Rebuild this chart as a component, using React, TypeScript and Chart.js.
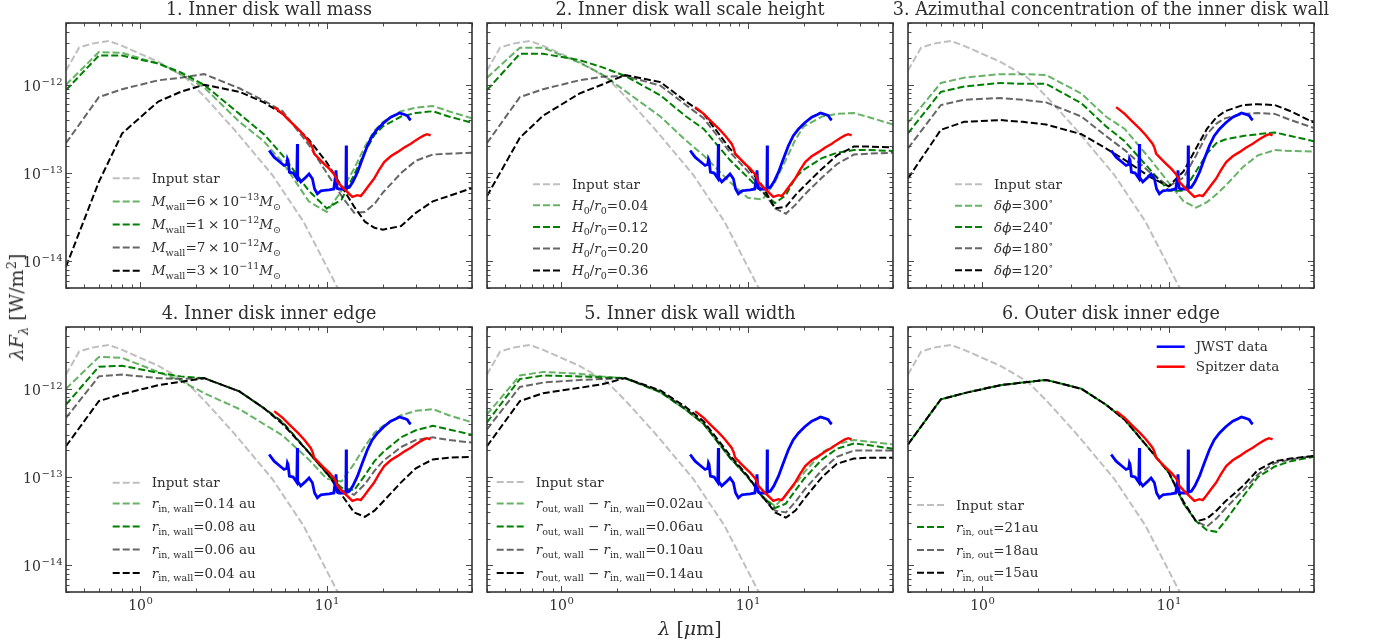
import React, { useEffect, useRef } from 'react';
import { Chart, registerables } from 'chart.js';
Chart.register(...registerables);

const FONT = '"DejaVu Serif", serif';
const TEXT = '#2e2e2e';

// ---------- axes ----------
const X_MIN = 0.4;
const X_MAX = 60;
const Y_MIN = 5e-15;
const Y_MAX = 5e-12;
const X_MAJOR = [1, 10];
const X_EXPONENTS = ['0', '1'];
const Y_MAJOR = [1e-14, 1e-13, 1e-12];
const Y_EXPONENTS = ['−14', '−13', '−12'];

// ---------- data (wavelength in μm, log10 of λFλ in W/m²) ----------
const MODEL_WL = [0.4, 0.6, 0.8, 1.25, 1.65, 2.2, 3.4, 4.6, 5.8, 8, 10, 12, 14, 16, 18, 20, 25, 30, 37, 45, 60];

const STAR_WL = [0.4, 0.47, 0.55, 0.68, 0.8, 1.0, 1.25, 1.75, 2.2, 3.2, 5.1, 7.5, 11.3, 20];
const STAR_LOGF = [-11.84, -11.58, -11.535, -11.505, -11.56, -11.65, -11.74, -11.92, -12.13, -12.51, -13.02, -13.55, -14.28, -15.0];

const JWST_WL = [4.91, 5.05, 5.22, 5.5, 5.9, 6.1, 6.15, 6.2, 6.3, 6.6, 6.9, 6.95, 6.98, 7.25, 7.6, 8.03, 8.37, 8.6, 8.9, 9.3, 9.67, 10.3, 10.9, 11.1, 11.2, 11.35, 11.6, 12.4, 12.65, 12.7, 12.75, 13.2, 13.8, 14.6, 15.5, 16.5, 17.5, 18.7, 20.2, 22.0, 23.5, 24.5, 25.4, 26.3, 27.0, 27.8, 28.2];
const JWST_LOGF = [-12.744, -12.78, -12.82, -12.86, -12.914, -12.9, -12.84, -12.857, -12.99, -13.0, -13.06, -12.67, -13.05, -13.1, -13.06, -13.01, -13.065, -13.18, -13.234, -13.2, -13.197, -13.19, -13.18, -13.05, -12.97, -13.17, -13.18, -13.18, -13.18, -12.687, -13.17, -13.16, -13.1, -12.99, -12.84, -12.69, -12.58, -12.5, -12.43, -12.367, -12.34, -12.32, -12.33, -12.34, -12.35, -12.39, -12.4];

const SPITZER_WL = [5.22, 5.8, 6.4, 7.0, 7.55, 8.2, 8.4, 8.55, 9.1, 9.67, 10.3, 10.9, 11.2, 11.4, 12.0, 12.9, 13.7, 14.6, 15.2, 15.8, 16.8, 17.9, 19.0, 20.3, 22.0, 23.9, 26.0, 28.2, 29.9, 31.5, 33.2, 34.5, 36.0];
const SPITZER_LOGF = [-12.254, -12.33, -12.42, -12.5, -12.574, -12.67, -12.72, -12.78, -12.84, -12.895, -12.95, -13.01, -13.05, -13.1, -13.15, -13.216, -13.27, -13.25, -13.26, -13.216, -13.14, -13.065, -12.97, -12.876, -12.81, -12.763, -12.71, -12.668, -12.63, -12.6, -12.574, -12.56, -12.574];

// Panel 1: inner disk wall mass
const P1_MWALL_6E13 = [-12.0, -11.63, -11.64, -11.76, -11.88, -12.03, -12.42, -12.64, -12.88, -13.32, -13.44, -13.2, -12.95, -12.7, -12.52, -12.42, -12.3, -12.26, -12.24, -12.3, -12.38];
const P1_MWALL_1E12 = [-12.06, -11.67, -11.67, -11.76, -11.86, -12.0, -12.33, -12.56, -12.8, -13.2, -13.4, -13.3, -13.02, -12.76, -12.57, -12.47, -12.36, -12.32, -12.3, -12.36, -12.43];
const P1_MWALL_7E12 = [-12.66, -12.14, -12.05, -11.95, -11.92, -11.88, -12.04, -12.18, -12.3, -12.68, -13.0, -13.26, -13.45, -13.44, -13.35, -13.22, -13.0, -12.86, -12.79, -12.78, -12.77];
const P1_MWALL_3E11 = [-14.06, -13.1, -12.55, -12.19, -12.08, -12.0, -12.08, -12.2, -12.33, -12.62, -12.88, -13.15, -13.38, -13.55, -13.62, -13.64, -13.6, -13.45, -13.32, -13.26, -13.17];

// Panel 2: inner disk wall scale height
const P2_H004 = [-11.92, -11.58, -11.58, -11.75, -11.88, -12.07, -12.36, -12.62, -12.8, -13.1, -13.28, -13.3, -13.1, -12.85, -12.62, -12.47, -12.36, -12.33, -12.32, -12.37, -12.45];
const P2_H012 = [-12.06, -11.65, -11.65, -11.72, -11.8, -11.9, -12.12, -12.35, -12.5, -12.85, -13.05, -13.22, -13.34, -13.25, -13.05, -12.96, -12.83, -12.77, -12.74, -12.74, -12.75];
const P2_H020 = [-12.66, -12.14, -12.05, -11.95, -11.91, -11.9, -12.01, -12.22, -12.38, -12.76, -12.98, -13.2, -13.4, -13.46, -13.36, -13.25, -13.05, -12.9, -12.79, -12.78, -12.77];
const P2_H036 = [-13.26, -12.6, -12.35, -12.1, -12.0, -11.89, -11.97, -12.18, -12.33, -12.72, -12.93, -13.15, -13.4, -13.38, -13.25, -13.15, -12.95, -12.8, -12.7, -12.7, -12.71];

// Panel 3: azimuthal concentration
const P3_DPHI300 = [-12.43, -11.98, -11.92, -11.88, -11.88, -11.89, -12.1, -12.36, -12.5, -12.85, -13.11, -13.32, -13.39, -13.33, -13.24, -13.15, -12.93, -12.8, -12.74, -12.75, -12.755];
const P3_DPHI240 = [-12.55, -12.08, -12.02, -11.98, -11.99, -11.99, -12.21, -12.47, -12.64, -12.97, -13.2, -13.2, -12.98, -12.78, -12.66, -12.62, -12.58, -12.56, -12.54, -12.58, -12.64];
const P3_DPHI180 = [-12.72, -12.23, -12.17, -12.15, -12.17, -12.2, -12.36, -12.58, -12.74, -13.0, -13.15, -13.05, -12.8, -12.56, -12.44, -12.38, -12.33, -12.32, -12.33, -12.4, -12.49];
const P3_DPHI120 = [-13.06, -12.51, -12.42, -12.4, -12.42, -12.45, -12.56, -12.72, -12.85, -13.05, -13.15, -12.98, -12.72, -12.5, -12.37, -12.3, -12.23, -12.22, -12.23, -12.3, -12.43];

// Panel 4: inner disk inner edge
const P4_RIN014 = [-12.0, -11.64, -11.65, -11.81, -11.91, -12.05, -12.23, -12.4, -12.53, -12.8, -13.02, -13.05, -12.85, -12.65, -12.5, -12.42, -12.3, -12.25, -12.23, -12.3, -12.38];
const P4_RIN008 = [-12.18, -11.75, -11.74, -11.82, -11.86, -11.88, -12.03, -12.22, -12.38, -12.72, -12.96, -13.12, -13.15, -12.98, -12.82, -12.72, -12.55, -12.47, -12.42, -12.46, -12.52];
const P4_RIN006 = [-12.33, -11.86, -11.84, -11.88, -11.89, -11.88, -12.03, -12.22, -12.38, -12.72, -12.96, -13.15, -13.2, -13.08, -12.93, -12.82, -12.66, -12.58, -12.55, -12.58, -12.61];
const P4_RIN004 = [-12.65, -12.14, -12.06, -11.96, -11.92, -11.88, -12.03, -12.22, -12.4, -12.72, -12.95, -13.2, -13.4, -13.45, -13.38, -13.28, -13.06, -12.9, -12.8, -12.78, -12.77];

// Panel 5: inner disk wall width
const P5_W002 = [-12.29, -11.85, -11.81, -11.83, -11.86, -11.88, -12.04, -12.23, -12.4, -12.78, -13.0, -13.22, -13.33, -13.2, -13.08, -12.95, -12.72, -12.63, -12.58, -12.6, -12.63];
const P5_W006 = [-12.38, -11.89, -11.85, -11.86, -11.87, -11.88, -12.04, -12.23, -12.4, -12.78, -13.0, -13.22, -13.35, -13.3, -13.15, -13.02, -12.8, -12.68, -12.62, -12.64, -12.68];
const P5_W010 = [-12.46, -11.98, -11.93, -11.9, -11.89, -11.88, -12.03, -12.22, -12.39, -12.77, -13.0, -13.23, -13.38, -13.4, -13.28, -13.15, -12.92, -12.77, -12.7, -12.7, -12.7];
const P5_W014 = [-12.65, -12.14, -12.05, -11.99, -11.95, -11.88, -12.02, -12.2, -12.37, -12.75, -12.99, -13.22, -13.4, -13.46, -13.38, -13.25, -13.0, -12.85, -12.79, -12.78, -12.78];

// Panel 6: outer disk inner edge
const P6_ROUT21 = [-12.63, -12.12, -12.05, -11.96, -11.93, -11.9, -12.0, -12.18, -12.35, -12.7, -12.95, -13.3, -13.5, -13.6, -13.62, -13.5, -13.22, -13.0, -12.88, -12.82, -12.77];
const P6_ROUT18 = [-12.63, -12.12, -12.05, -11.96, -11.93, -11.9, -12.0, -12.18, -12.35, -12.7, -12.95, -13.3, -13.5, -13.56, -13.47, -13.36, -13.15, -12.97, -12.84, -12.8, -12.76];
const P6_ROUT15 = [-12.63, -12.12, -12.05, -11.96, -11.93, -11.9, -12.0, -12.18, -12.35, -12.7, -12.95, -13.28, -13.5, -13.47, -13.38, -13.28, -13.1, -12.92, -12.82, -12.79, -12.76];

const PANEL_TITLES = [
  '1. Inner disk wall mass',
  '2. Inner disk wall scale height',
  '3. Azimuthal concentration of the inner disk wall',
  '4. Inner disk inner edge',
  '5. Inner disk wall width',
  '6. Outer disk inner edge',
];

type Seg = [string, string?];
const STAR_LABEL: Seg[] = [['Input star']];
const P1_LABELS: Seg[][] = [
  [['M', 'i'], ['wall', 'sub'], ['=6\u2009×\u200910'], ['−13', 'sup'], ['M', 'i'], ['⊙', 'sub']],
  [['M', 'i'], ['wall', 'sub'], ['=1\u2009×\u200910'], ['−12', 'sup'], ['M', 'i'], ['⊙', 'sub']],
  [['M', 'i'], ['wall', 'sub'], ['=7\u2009×\u200910'], ['−12', 'sup'], ['M', 'i'], ['⊙', 'sub']],
  [['M', 'i'], ['wall', 'sub'], ['=3\u2009×\u200910'], ['−11', 'sup'], ['M', 'i'], ['⊙', 'sub']],
];
const P2_LABELS: Seg[][] = ['0.04', '0.12', '0.20', '0.36'].map((v) => [['H', 'i'], ['0', 'sub'], ['/'], ['r', 'i'], ['0', 'sub'], ['=' + v]] as Seg[]);
const P3_LABELS: Seg[][] = ['300', '240', '180', '120'].map((v) => [['δϕ', 'i'], ['=' + v], ['∘', 'sup']] as Seg[]);
const P4_LABELS: Seg[][] = ['0.14', '0.08', '0.06', '0.04'].map((v) => [['r', 'i'], ['in, wall', 'sub'], ['=' + v + ' au']] as Seg[]);
const P5_LABELS: Seg[][] = ['0.02', '0.06', '0.10', '0.14'].map((v) => [['r', 'i'], ['out, wall', 'sub'], [' − '], ['r', 'i'], ['in, wall', 'sub'], ['=' + v + 'au']] as Seg[]);
const P6_LABELS: Seg[][] = ['21', '18', '15'].map((v) => [['r', 'i'], ['in, out', 'sub'], ['=' + v + 'au']] as Seg[]);

const C_STAR = 'rgba(0,0,0,0.25)';
const C_LGREEN = 'rgba(0,128,0,0.6)';
const C_DGREEN = '#008000';
const C_GRAY = 'rgba(0,0,0,0.6)';
const C_BLACK = '#000000';
const DASH = [7, 3];

// ---------- layout ----------
const COL_X = [66, 487, 908];
const ROW_Y = [23, 327];
const PLOT_W = 406;
const PLOT_H = 265;
const PAD_L = 66;
const PAD_T = 6;
const PAD_R = 8;
const PAD_B = 36;

type ModelSeries = { logs: number[]; color: string; label: Seg[]; dashOffset?: number };
type PanelDef = {
  models: ModelSeries[];
  legendX: number;
  legendRows: number[];
  dataLegend?: boolean;
};

const PANELS: PanelDef[] = [
  {
    models: [
      { logs: P1_MWALL_6E13, color: C_LGREEN, label: P1_LABELS[0] },
      { logs: P1_MWALL_1E12, color: C_DGREEN, label: P1_LABELS[1] },
      { logs: P1_MWALL_7E12, color: C_GRAY, label: P1_LABELS[2] },
      { logs: P1_MWALL_3E11, color: C_BLACK, label: P1_LABELS[3] },
    ],
    legendX: 46.7,
    legendRows: [155.3, 178.4, 201.5, 224.6, 247.7],
  },
  {
    models: [
      { logs: P2_H004, color: C_LGREEN, label: P2_LABELS[0] },
      { logs: P2_H012, color: C_DGREEN, label: P2_LABELS[1] },
      { logs: P2_H020, color: C_GRAY, label: P2_LABELS[2] },
      { logs: P2_H036, color: C_BLACK, label: P2_LABELS[3] },
    ],
    legendX: 46,
    legendRows: [161.3, 182.3, 204, 225.5, 247.5],
  },
  {
    models: [
      { logs: P3_DPHI300, color: C_LGREEN, label: P3_LABELS[0] },
      { logs: P3_DPHI240, color: C_DGREEN, label: P3_LABELS[1] },
      { logs: P3_DPHI180, color: C_GRAY, label: P3_LABELS[2] },
      { logs: P3_DPHI120, color: C_BLACK, label: P3_LABELS[3] },
    ],
    legendX: 47,
    legendRows: [161.3, 182.7, 204, 225.3, 247.3],
  },
  {
    models: [
      { logs: P4_RIN014, color: C_LGREEN, label: P4_LABELS[0] },
      { logs: P4_RIN008, color: C_DGREEN, label: P4_LABELS[1] },
      { logs: P4_RIN006, color: C_GRAY, label: P4_LABELS[2] },
      { logs: P4_RIN004, color: C_BLACK, label: P4_LABELS[3] },
    ],
    legendX: 46.7,
    legendRows: [155.7, 176.5, 199.5, 222.5, 246],
  },
  {
    models: [
      { logs: P5_W002, color: C_LGREEN, label: P5_LABELS[0] },
      { logs: P5_W006, color: C_DGREEN, label: P5_LABELS[1] },
      { logs: P5_W010, color: C_GRAY, label: P5_LABELS[2] },
      { logs: P5_W014, color: C_BLACK, label: P5_LABELS[3] },
    ],
    legendX: 9.7,
    legendRows: [155, 176.5, 199.5, 222.7, 246],
  },
  {
    models: [
      { logs: P6_ROUT21, color: C_DGREEN, label: P6_LABELS[0], dashOffset: 5 },
      { logs: P6_ROUT18, color: C_GRAY, label: P6_LABELS[1] },
      { logs: P6_ROUT15, color: C_BLACK, label: P6_LABELS[2] },
    ],
    legendX: 9,
    legendRows: [178, 200, 223, 245.7],
    dataLegend: true,
  },
];

// ---------- helpers ----------
function toPoints(xs: number[], logs: number[]) {
  return xs.map((x, i) => ({ x, y: Math.pow(10, logs[i]) }));
}

function tickValues(min: number, max: number) {
  const out: { v: number; major: boolean }[] = [];
  for (let d = Math.floor(Math.log10(min)) - 1; d <= Math.ceil(Math.log10(max)); d++) {
    for (let k = 1; k <= 9; k++) {
      const v = k * Math.pow(10, d);
      if (v >= min * 0.999 && v <= max * 1.001) out.push({ v, major: k === 1 });
    }
  }
  return out;
}

const LEG_SIZE = 13.5;
const LEG_SMALL = 9.5;

function drawSegs(ctx: CanvasRenderingContext2D, segs: Seg[], x: number, baseY: number) {
  ctx.fillStyle = TEXT;
  ctx.textAlign = 'left';
  ctx.textBaseline = 'alphabetic';
  for (const [t, s] of segs) {
    let size = LEG_SIZE;
    let dy = 0;
    let italic = false;
    if (s === 'i') italic = true;
    if (s === 'sub') {
      size = LEG_SMALL;
      dy = 3.5;
    }
    if (s === 'sup') {
      size = LEG_SMALL;
      dy = -6;
    }
    ctx.font = `${italic ? 'italic ' : ''}${size}px ${FONT}`;
    ctx.fillText(t, x, baseY + dy);
    x += ctx.measureText(t).width;
  }
}

// power-of-ten label: "10" with a raised exponent
function drawPow(ctx: CanvasRenderingContext2D, exp: string, x: number, baseY: number, align: 'right' | 'center') {
  ctx.textAlign = 'left';
  ctx.textBaseline = 'alphabetic';
  ctx.fillStyle = TEXT;
  ctx.font = `14px ${FONT}`;
  const w1 = ctx.measureText('10').width;
  ctx.font = `10px ${FONT}`;
  const w2 = ctx.measureText(exp).width;
  const start = align === 'right' ? x - w1 - w2 : x - (w1 + w2) / 2;
  ctx.font = `14px ${FONT}`;
  ctx.fillText('10', start, baseY);
  ctx.font = `10px ${FONT}`;
  ctx.fillText(exp, start + w1 + 0.5, baseY - 6);
}

function makeFramePlugin(showX: boolean, showY: boolean) {
  return {
    id: 'frameTicks',
    afterDatasetsDraw(chart: any) {
      const { ctx, chartArea: a, scales } = chart;
      const xs = scales.x;
      const ys = scales.y;
      ctx.save();
      ctx.strokeStyle = '#4a4a4a';
      ctx.lineWidth = 1;
      ctx.setLineDash([]);
      ctx.beginPath();
      for (const t of tickValues(X_MIN, X_MAX)) {
        const px = Math.round(xs.getPixelForValue(t.v)) + 0.5;
        const len = t.major ? 6 : 3.5;
        ctx.moveTo(px, a.bottom);
        ctx.lineTo(px, a.bottom - len);
        ctx.moveTo(px, a.top);
        ctx.lineTo(px, a.top + len);
      }
      for (const t of tickValues(Y_MIN, Y_MAX)) {
        const py = Math.round(ys.getPixelForValue(t.v)) + 0.5;
        const len = t.major ? 6 : 3.5;
        ctx.moveTo(a.left, py);
        ctx.lineTo(a.left + len, py);
        ctx.moveTo(a.right, py);
        ctx.lineTo(a.right - len, py);
      }
      ctx.stroke();
      ctx.strokeStyle = '#333333';
      ctx.lineWidth = 1.6;
      ctx.strokeRect(a.left, a.top, a.right - a.left, a.bottom - a.top);
      if (showY) {
        Y_MAJOR.forEach((v, i) => {
          const py = ys.getPixelForValue(v);
          drawPow(ctx, Y_EXPONENTS[i], a.left - 4, py + 6, 'right');
        });
      }
      if (showX) {
        X_MAJOR.forEach((v, i) => {
          const px = xs.getPixelForValue(v);
          drawPow(ctx, X_EXPONENTS[i], px, a.bottom + 18, 'center');
        });
      }
      ctx.restore();
    },
  };
}

type LegendItem = { color: string; dash: number[]; width: number; segs: Seg[] };
type LegendBlock = { x: number; rows: number[]; items: LegendItem[] };

function makeLegendPlugin(blocks: LegendBlock[]) {
  return {
    id: 'mathLegend',
    afterDraw(chart: any) {
      const { ctx, chartArea: a } = chart;
      ctx.save();
      for (const b of blocks) {
        b.items.forEach((item, k) => {
          const y = a.top + b.rows[k];
          const x0 = a.left + b.x;
          ctx.beginPath();
          ctx.setLineDash(item.dash);
          ctx.strokeStyle = item.color;
          ctx.lineWidth = item.width;
          ctx.moveTo(x0, y);
          ctx.lineTo(x0 + 28, y);
          ctx.stroke();
          ctx.setLineDash([]);
          drawSegs(ctx, item.segs, x0 + 39, y + 4.7);
        });
      }
      ctx.restore();
    },
  };
}

function Panel({ index }: { index: number }) {
  const ref = useRef<HTMLCanvasElement>(null);
  const def = PANELS[index];
  const col = index % 3;
  const row = Math.floor(index / 3);
  const cw = PAD_L + PLOT_W + PAD_R;
  const ch = PAD_T + PLOT_H + PAD_B;

  useEffect(() => {
    if (!ref.current) return;
    const datasets: any[] = [];
    datasets.push({
      data: toPoints(STAR_WL, STAR_LOGF),
      borderColor: C_STAR,
      borderWidth: 2,
      borderDash: DASH,
      pointRadius: 0,
      order: 10,
    });
    def.models.forEach((m, k) => {
      datasets.push({
        data: toPoints(MODEL_WL, m.logs),
        borderColor: m.color,
        borderWidth: 2,
        borderDash: DASH,
        borderDashOffset: m.dashOffset || 0,
        pointRadius: 0,
        order: 9 - k,
      });
    });
    datasets.push({
      data: toPoints(JWST_WL, JWST_LOGF),
      borderColor: '#0000ff',
      borderWidth: 2.8,
      pointRadius: 0,
      order: 2,
    });
    datasets.push({
      data: toPoints(SPITZER_WL, SPITZER_LOGF),
      borderColor: '#ff0000',
      borderWidth: 2.4,
      pointRadius: 0,
      order: 1,
    });

    const blocks: LegendBlock[] = [
      {
        x: def.legendX,
        rows: def.legendRows,
        items: [
          { color: C_STAR, dash: DASH, width: 2, segs: STAR_LABEL },
          ...def.models.map((m) => ({ color: m.color, dash: DASH, width: 2, segs: m.label })),
        ],
      },
    ];
    if (def.dataLegend) {
      blocks.push({
        x: 248.7,
        rows: [19.7, 39.7],
        items: [
          { color: '#0000ff', dash: [], width: 2.5, segs: [['JWST data']] },
          { color: '#ff0000', dash: [], width: 2.5, segs: [['Spitzer data']] },
        ],
      });
    }

    const chart = new Chart(ref.current, {
      type: 'line',
      data: { datasets },
      options: {
        animation: false,
        responsive: false,
        devicePixelRatio: 1,
        events: [],
        layout: { padding: { top: PAD_T, right: PAD_R, left: 0, bottom: 0 } },
        plugins: {
          legend: { display: false },
          tooltip: { enabled: false },
          title: { display: false },
        },
        elements: { line: { tension: 0 } },
        scales: {
          x: {
            type: 'logarithmic',
            min: X_MIN,
            max: X_MAX,
            grid: { display: false, drawTicks: false },
            border: { display: false },
            ticks: { display: false },
            afterBuildTicks: (s: any) => {
              s.ticks = X_MAJOR.map((v) => ({ value: v }));
            },
            afterFit: (s: any) => {
              s.height = PAD_B;
            },
          },
          y: {
            type: 'logarithmic',
            min: Y_MIN,
            max: Y_MAX,
            grid: { display: false, drawTicks: false },
            border: { display: false },
            ticks: { display: false },
            afterBuildTicks: (s: any) => {
              s.ticks = Y_MAJOR.map((v) => ({ value: v }));
            },
            afterFit: (s: any) => {
              s.width = PAD_L;
            },
          },
        },
      } as any,
      plugins: [makeFramePlugin(row === 1, col === 0), makeLegendPlugin(blocks)],
    });
    return () => chart.destroy();
  }, [index]);

  return (
    <canvas
      ref={ref}
      width={cw}
      height={ch}
      style={{
        position: 'absolute',
        left: COL_X[col] - PAD_L,
        top: ROW_Y[row] - PAD_T,
        width: cw,
        height: ch,
      }}
    />
  );
}

export default function App() {
  return (
    <div
      style={{
        position: 'absolute',
        left: 0,
        top: 0,
        width: 1377,
        height: 643,
        background: '#ffffff',
        fontFamily: FONT,
        color: TEXT,
        overflow: 'hidden',
      }}
    >
      {PANELS.map((_, i) => (
        <Panel key={i} index={i} />
      ))}
      {PANEL_TITLES.map((t, i) => (
        <div
          key={'t' + i}
          style={{
            position: 'absolute',
            left: COL_X[i % 3] - 40,
            width: PLOT_W + 80,
            top: ROW_Y[Math.floor(i / 3)] - 24,
            height: 20,
            lineHeight: '20px',
            fontSize: 17.6,
            textAlign: 'center',
            whiteSpace: 'nowrap',
          }}
        >
          {t}
        </div>
      ))}
      <div
        style={{
          position: 'absolute',
          left: 18,
          top: 307,
          transform: 'translate(-50%, -50%) rotate(-90deg)',
          fontSize: 19,
          whiteSpace: 'nowrap',
          lineHeight: '22px',
        }}
      >
        <i>λF</i>
        <sub style={{ fontSize: 13 }}>
          <i>λ</i>
        </sub>{' '}
        [W/m<sup style={{ fontSize: 13 }}>2</sup>]
      </div>
      <div
        style={{
          position: 'absolute',
          left: 690,
          top: 628,
          transform: 'translate(-50%, -50%)',
          fontSize: 19,
          whiteSpace: 'nowrap',
          lineHeight: '22px',
        }}
      >
        <i>λ</i> [<i>μ</i>m]
      </div>
    </div>
  );
}
